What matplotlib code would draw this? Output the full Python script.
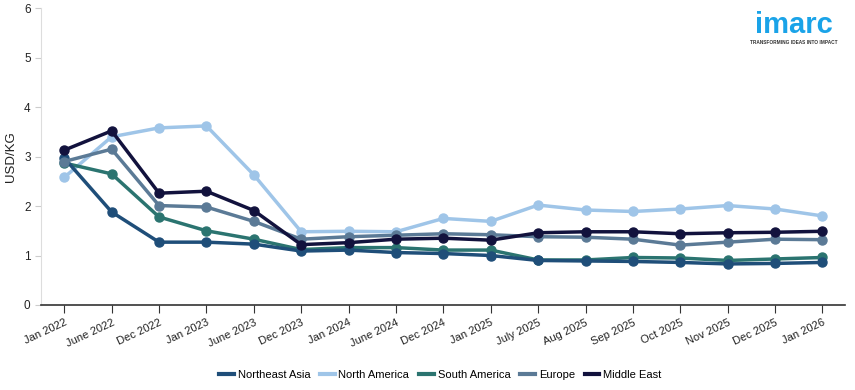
import matplotlib
matplotlib.use("Agg")
import matplotlib.pyplot as plt
from matplotlib.lines import Line2D

plt.rcParams['font.family'] = ['Liberation Sans', 'DejaVu Sans']

categories = ["Jan 2022", "June 2022", "Dec 2022", "Jan 2023", "June 2023", "Dec 2023",
              "Jan 2024", "June 2024", "Dec 2024", "Jan 2025", "July 2025", "Aug 2025",
              "Sep 2025", "Oct 2025", "Nov 2025", "Dec 2025", "Jan 2026"]

northeast_asia = [2.97, 1.88, 1.27, 1.27, 1.23, 1.09, 1.11, 1.06, 1.04, 1.00, 0.90, 0.89,
                  0.88, 0.86, 0.83, 0.84, 0.86]
north_america = [2.58, 3.40, 3.58, 3.62, 2.63, 1.48, 1.49, 1.48, 1.75, 1.69, 2.02, 1.92,
                 1.89, 1.94, 2.01, 1.94, 1.80]
south_america = [2.87, 2.65, 1.78, 1.50, 1.33, 1.12, 1.16, 1.16, 1.11, 1.11, 0.91, 0.91,
                 0.96, 0.95, 0.90, 0.93, 0.96]
europe = [2.90, 3.15, 2.01, 1.98, 1.69, 1.33, 1.38, 1.41, 1.44, 1.42, 1.38, 1.37,
          1.33, 1.21, 1.27, 1.33, 1.32]
middle_east = [3.13, 3.52, 2.26, 2.30, 1.91, 1.22, 1.26, 1.33, 1.35, 1.31, 1.46, 1.48,
               1.48, 1.44, 1.46, 1.47, 1.49]

series_names = ["Northeast Asia", "North America", "South America", "Europe", "Middle East"]
series_values = [northeast_asia, north_america, south_america, europe, middle_east]
colors = ["#1f4e79", "#9fc5e8", "#2b7470", "#5b7a96", "#12123d"]

fig = plt.figure(figsize=(8.55, 3.9), dpi=100)
ax = fig.add_axes([0.048, 0.218, 0.940, 0.761])

x = list(range(len(categories)))
zorders = [3, 1, 2, 4, 5]
for name, vals, c, z in zip(series_names, series_values, colors, zorders):
    ax.plot(x, vals, color=c, lw=2.5, marker='o', markersize=6.5, label=name, zorder=z)

ax.set_xlim(-0.49, 16.47)
ax.set_ylim(0, 6)
ax.set_yticks(range(0, 7))
ax.set_xticks(x)
ax.set_xticklabels(categories, rotation=25, ha='right', rotation_mode='anchor', fontsize=8, color='#222222')
ax.tick_params(axis='y', labelsize=8.5, colors='#222222', length=4, color='#cccccc')
ax.tick_params(axis='x', length=6, color='#333333', pad=3)
ax.set_ylabel("USD/KG", fontsize=9.5, color='#222222', labelpad=5)

for s in ['top', 'right']:
    ax.spines[s].set_visible(False)
ax.spines['left'].set_color('#dddddd')
ax.spines['bottom'].set_color('#333333')
ax.spines['bottom'].set_linewidth(1.2)

handles = [Line2D([0], [0], color=c, lw=3) for c in colors]
fig.legend(handles, series_names, loc='center', bbox_to_anchor=(0.515, 0.038), ncol=5,
           frameon=False, fontsize=8, handlelength=1.3, handletextpad=0.35, columnspacing=0.9)

fig.text(0.928, 0.915, "imarc", fontsize=21, color='#1aa3e8', ha='center', va='baseline', fontweight='bold')
fig.text(0.928, 0.89, "TRANSFORMING IDEAS INTO IMPACT", fontsize=3.4, color='#333333', ha='center', va='center', fontweight='bold')

fig.savefig("out.png", dpi=100)
